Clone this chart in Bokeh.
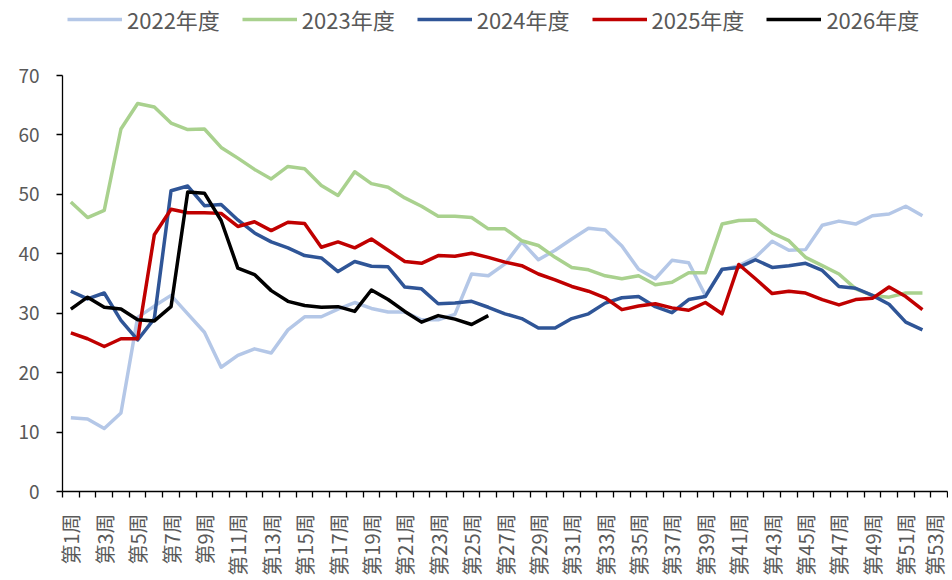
from bokeh.plotting import figure
from bokeh.models import FixedTicker, Legend, LegendItem, Range1d
from bokeh.embed import file_html
from bokeh.resources import INLINE

weeks_all = list(range(1, 54))
week_labels = {i: f"第{i}周" for i in weeks_all}

s2022 = [12.4, 12.2, 10.6, 13.2, 29.3, 31.2, 33.0, 29.9, 26.8, 20.9, 22.9, 24.0, 23.3, 27.2, 29.4, 29.4,
         30.7, 31.8, 30.8, 30.2, 30.2, 28.9, 28.9, 29.8, 36.6, 36.3, 38.3, 42.0, 39.0, 40.6, 42.5, 44.3,
         44.0, 41.3, 37.4, 35.8, 38.9, 38.5, 33.0, 37.3, 38.0, 39.4, 42.1, 40.6, 40.7, 44.8, 45.5, 45.0,
         46.4, 46.7, 48.0, 46.4]
s2023 = [48.7, 46.1, 47.3, 61.0, 65.3, 64.7, 62.0, 60.9, 61.0, 57.9, 56.1, 54.2, 52.6, 54.7, 54.3, 51.5,
         49.8, 53.8, 51.8, 51.2, 49.4, 48.0, 46.3, 46.3, 46.1, 44.2, 44.2, 42.2, 41.4, 39.4, 37.7, 37.3,
         36.3, 35.8, 36.3, 34.8, 35.2, 36.8, 36.8, 45.0, 45.6, 45.7, 43.5, 42.2, 39.4, 38.0, 36.6, 34.1,
         33.0, 32.7, 33.4, 33.4]
s2024 = [33.7, 32.4, 33.4, 28.8, 25.5, 29.1, 50.6, 51.4, 48.1, 48.3, 45.7, 43.5, 42.0, 41.0, 39.7, 39.3,
         37.0, 38.7, 37.9, 37.8, 34.4, 34.1, 31.6, 31.7, 32.0, 31.0, 29.9, 29.1, 27.5, 27.5, 29.1, 29.9,
         31.7, 32.6, 32.8, 31.1, 30.1, 32.3, 32.8, 37.4, 37.7, 39.0, 37.7, 38.0, 38.4, 37.2, 34.5, 34.2,
         33.0, 31.5, 28.5, 27.2]
s2025 = [26.7, 25.7, 24.4, 25.7, 25.7, 43.2, 47.5, 46.9, 46.9, 46.8, 44.6, 45.4, 43.9, 45.3, 45.1, 41.1,
         42.0, 41.0, 42.5, 40.6, 38.7, 38.4, 39.7, 39.6, 40.1, 39.4, 38.6, 38.0, 36.6, 35.6, 34.5, 33.7,
         32.6, 30.6, 31.2, 31.6, 30.9, 30.5, 31.8, 29.9, 38.2, 35.8, 33.3, 33.7, 33.4, 32.3, 31.4, 32.3,
         32.5, 34.4, 32.8, 30.6]
s2026 = [30.7, 32.7, 31.0, 30.7, 28.9, 28.7, 31.1, 50.4, 50.2, 45.6, 37.6, 36.5, 33.8, 32.0, 31.3, 31.0,
         31.1, 30.3, 33.9, 32.3, 30.3, 28.5, 29.6, 29.0, 28.1, 29.6]

series_names = ["2022年度", "2023年度", "2024年度", "2025年度", "2026年度"]
series_values = [s2022, s2023, s2024, s2025, s2026]
series_colors = ["#B4C7E7", "#A9D18E", "#2F5597", "#C00000", "#000000"]

y_ticks = [0, 10, 20, 30, 40, 50, 60, 70]
y_axis_max = 70

FONT = "Noto Sans CJK SC"
GRAY = "#595959"

# frame spans the full height above the x axis so the legend can sit inside it;
# the y axis itself is bounded to 0..70
FRAME_H = 491
PX_PER_UNIT = 416 / 70.0

p = figure(width=948, height=580, output_backend="svg", toolbar_location=None,
           x_range=Range1d(0.5, 53.5), y_range=Range1d(0, FRAME_H / PX_PER_UNIT),
           min_border_left=62, min_border_right=1, min_border_top=0, min_border_bottom=89)
p.outline_line_color = None
p.xgrid.visible = False
p.ygrid.visible = False
p.background_fill_color = "white"
p.border_fill_color = "white"

items = []
for name, vals, col in zip(series_names, series_values, series_colors):
    xs = list(range(1, len(vals) + 1))
    r = p.line(xs, vals, line_color=col, line_width=3.5, line_join="round")
    items.append(LegendItem(label=name, renderers=[r]))

# x axis
xa = p.xaxis[0]
xa.ticker = FixedTicker(ticks=list(range(1, 54, 2)), minor_ticks=[i + 0.5 for i in range(0, 54)])
xa.major_label_overrides = week_labels
xa.major_label_orientation = 3.14159265 / 2
xa.major_tick_out = 0
xa.major_tick_in = 0
xa.minor_tick_out = 6
xa.minor_tick_in = 0
xa.minor_tick_line_color = "black"
xa.minor_tick_line_width = 1.3
xa.axis_line_color = "black"
xa.axis_line_width = 1.3
xa.major_label_text_font = FONT
xa.major_label_text_font_size = "20px"
xa.major_label_text_color = GRAY
xa.major_label_standoff = 16

# y axis
ya = p.yaxis[0]
ya.ticker = FixedTicker(ticks=y_ticks)
ya.bounds = (0, y_axis_max)
ya.major_tick_out = 6
ya.major_tick_in = 0
ya.minor_tick_out = 0
ya.minor_tick_in = 0
ya.major_tick_line_color = "black"
ya.major_tick_line_width = 1.3
ya.axis_line_color = "black"
ya.axis_line_width = 1.3
ya.major_label_text_font = FONT
ya.major_label_text_font_size = "19px"
ya.major_label_text_color = GRAY
ya.major_label_standoff = 17

legend = Legend(items=items, location=(5, 456), orientation="horizontal",
                glyph_width=55, glyph_height=20, label_standoff=5, spacing=22,
                padding=0, margin=0, label_text_font=FONT, label_text_font_size="22px",
                label_text_color=GRAY, border_line_color=None, background_fill_alpha=0)
p.add_layout(legend, "center")

open("out.html", "w").write(file_html(p, INLINE))
